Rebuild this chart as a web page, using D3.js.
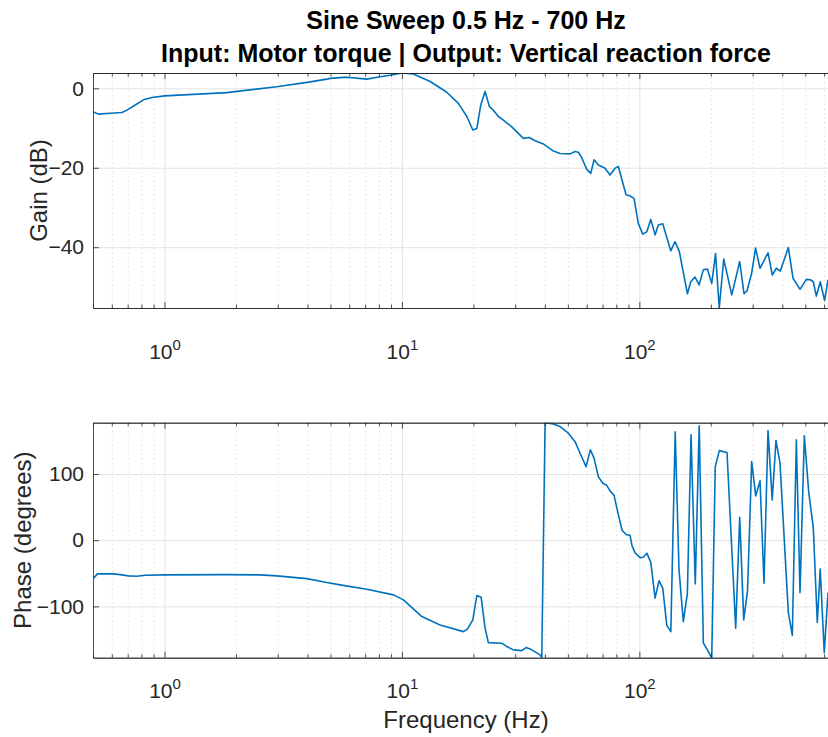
<!DOCTYPE html>
<html>
<head>
<meta charset="utf-8">
<script src="https://cdn.jsdelivr.net/npm/d3@7"></script>
<style>
  body { margin: 0; background: #fff; }
  svg { display: block; font-family: "Liberation Sans", Arial, Helvetica, sans-serif; }
</style>
</head>
<body>
<svg id="chart" width="828" height="737"></svg>
<script>
// Measured frequency response of the sweep (0.5 Hz - 700 Hz)
const gainFreq = [0.5, 0.527, 0.591, 0.662, 0.695, 0.753, 0.816, 0.885, 1.0, 1.83, 2.97, 3.98, 4.83, 4.99,
  5.86, 7.12, 8.09, 8.92, 10.0, 11.18, 13.15, 15.45, 17.29, 18.77, 19.89, 20.68, 21.49, 22.4, 23.36,
  24.28, 25.49, 26.75, 29.02, 32.48, 34.42, 36.38, 39.42, 43.19, 46.37, 51.07, 53.61, 55.36, 57.22,
  60.06, 62.43, 64.46, 67.2, 71.72, 75.27, 79.02, 81.59, 87.9, 91.38, 94.99, 99.0, 103.3, 107.5, 111.7,
  116.5, 120.2, 125.5, 135.6, 141.4, 147.4, 159.3, 164.6, 171.6, 178.4, 186.0, 193.4, 201.8, 209.4,
  217.0, 226.7, 245.0, 264.7, 275.9, 284.1, 297.3, 308.5, 322.3, 348.3, 363.1, 377.5, 392.4, 424.1,
  443.9, 475.0, 505.0, 524.8, 540.3, 556.4, 578.3, 602.9, 623.1];
const gainDb = [-5.9, -6.5, -6.3, -6.1, -5.5, -4.2, -2.9, -2.3, -1.9, -1.1, 0.4, 1.5, 2.3, 2.5,
  2.8, 2.3, 2.9, 3.3, 3.85, 3.6, 1.7, -1.0, -3.8, -7.1, -10.5, -10.1, -4.2, -0.8, -4.6,
  -5.5, -7.1, -8.0, -9.7, -12.6, -12.4, -13.2, -14.0, -15.7, -16.4, -16.5, -15.9, -16.1, -17.5,
  -20.4, -21.4, -18.0, -19.3, -20.1, -21.8, -20.1, -19.7, -26.8, -27.1, -27.7, -34.0, -36.7, -36.1, -33.0,
  -36.9, -34.4, -34.1, -40.9, -38.6, -41.1, -51.7, -48.7, -47.5, -49.5, -45.7, -45.5, -49.1, -41.6,
  -55.3, -43.0, -52.0, -43.6, -51.7, -51.0, -46.5, -40.2, -45.3, -41.4, -47.0, -45.3, -46.0, -40.1,
  -47.8, -50.6, -48.1, -48.2, -48.7, -52.3, -48.7, -53.4, -48.2];

const phaseFreq = [0.503, 0.522, 0.61, 0.651, 0.705, 0.765, 0.829, 1.0, 1.83, 2.53, 2.97, 3.98, 4.83, 5.49,
  7.12, 9.21, 10.15, 12.13, 14.48, 18.16, 18.87, 19.89, 20.68, 21.56, 22.4, 23.13, 26.34, 27.65, 29.48,
  31.98, 33.34, 34.65, 38.18, 38.82, 40.09, 43.44, 46.37, 50.24, 53.61, 56.27, 59.65, 62.2, 64.46, 67.2,
  70.14, 72.63, 75.27, 78.26, 81.59, 84.58, 87.9, 91.38, 93.18, 95.92, 100.7, 104.0, 107.5, 111.7,
  116.5, 121.0, 125.5, 130.5, 135.7, 141.6, 146.9, 153.2, 159.3, 165.1, 172.0, 178.7, 186.0, 201.8,
  208.8, 217.2, 234.0, 254.6, 264.7, 275.2, 285.5, 297.3, 309.1, 322.3, 335.0, 348.3, 362.7, 376.3,
  391.3, 424.1, 440.9, 458.4, 475.0, 495.2, 516.8, 540.3, 561.7, 577.8, 600.9, 623.1];
const phaseDeg = [-57.4, -50.9, -50.9, -52.0, -53.9, -54.4, -52.9, -52.4, -52.0, -52.4, -53.9, -58.0, -64.0, -67.5,
  -74.0, -82.6, -90.2, -115.4, -128.0, -138.1, -134.4, -120.4, -83.7, -86.1, -132.9, -154.7, -155.6, -160.7, -165.7,
  -166.8, -162.2, -164.2, -173.3, -177.5, 177.5, 175.7, 171.6, 161.6, 148.9, 131.4, 111.2, 136.4, 123.9, 96.1,
  86.1, 83.5, 74.5, 67.7, 38.2, 15.1, 8.5, 7.3, -8.6, -19.2, -26.3, -25.7, -19.6, -33.2,
  -87.6, -61.2, -72.5, -128.7, -138.1, 163.6, -44.9, -123.0, -80.7, 159.1, -66.0, 172.7, -155.1, -177.5,
  111.2, 135.3, 132.6, -132.9, 34.7, -120.4, -76.6, 118.7, 66.9, 89.6, -65.0, 165.6, 60.9, 150.5,
  116.3, -109.4, -143.8, 151.5, -79.2, 157.6, 73.0, 18.6, -124.2, -43.4, -169.8, -79.2];

const freqLimits = [0.5, 700];
const gainLimits = [-55.3, 3.85];
const phaseLimits = [-177.5, 177.5];
const freqTicks = [1, 10, 100];
const freqTickExponents = ["0", "1", "2"];
const gainTicks = [0, -20, -40];
const phaseTicks = [100, 0, -100];

const titleLines = ["Sine Sweep 0.5 Hz - 700 Hz", "Input: Motor torque | Output: Vertical reaction force"];

const W = 828, H = 737;
const plotLeft = 93, plotRight = 840;
const axisColor = "#262626";
const lineColor = "#0072BD";

const svg = d3.select("#chart");
svg.append("rect").attr("width", W).attr("height", H).attr("fill", "#fff");

const x = d3.scaleLog().domain(freqLimits).range([plotLeft, plotRight]);

// minor ticks at 2..9 multiples of every decade inside the limits
const minorFreqs = [];
for (let e = -1; e <= 2; e++) {
  for (let m = 2; m <= 9; m++) {
    const v = m * Math.pow(10, e);
    if (v >= freqLimits[0] && v <= freqLimits[1] && !freqTicks.includes(v)) minorFreqs.push(+v.toPrecision(3));
  }
}

function drawPanel(opts) {
  const { top, bottom, yDomain, yTicks, yLabel, yLabelX, xLabelY, freqs, values, id } = opts;
  const h = bottom - top;
  const y = d3.scaleLinear().domain(yDomain).range([bottom, top]);
  const g = svg.append("g");

  // grid
  const gridMinor = g.append("g").attr("transform", `translate(0,${bottom})`)
    .call(d3.axisBottom(x).tickValues(minorFreqs).tickSize(-h).tickFormat(""));
  gridMinor.select(".domain").remove();
  gridMinor.selectAll("line").attr("stroke", "#d6d6d6").attr("stroke-width", 0.8).attr("stroke-dasharray", "1.5,3");

  const gridX = g.append("g").attr("transform", `translate(0,${bottom})`)
    .call(d3.axisBottom(x).tickValues(freqTicks).tickSize(-h).tickFormat(""));
  gridX.select(".domain").remove();
  gridX.selectAll("line").attr("stroke", "#e3e3e3").attr("stroke-width", 1);

  const gridY = g.append("g").attr("transform", `translate(${plotLeft},0)`)
    .call(d3.axisLeft(y).tickValues(yTicks).tickSize(-(plotRight - plotLeft)).tickFormat(""));
  gridY.select(".domain").remove();
  gridY.selectAll("line").attr("stroke", "#e3e3e3").attr("stroke-width", 1);

  // data line
  const clipId = "clip-" + id;
  svg.append("clipPath").attr("id", clipId).append("rect")
    .attr("x", plotLeft).attr("y", top).attr("width", plotRight - plotLeft).attr("height", h);
  const pts = freqs.map((f, i) => [f, values[i]]);
  g.append("path").datum(pts)
    .attr("clip-path", `url(#${clipId})`)
    .attr("fill", "none").attr("stroke", lineColor).attr("stroke-width", 1.6)
    .attr("stroke-linejoin", "round")
    .attr("d", d3.line().x(d => x(d[0])).y(d => y(d[1])));

  // axes box with inward ticks
  const axB = g.append("g").attr("transform", `translate(0,${bottom})`)
    .call(d3.axisBottom(x).tickValues(freqTicks).tickSizeInner(-6).tickSizeOuter(0).tickFormat(""));
  const axBm = g.append("g").attr("transform", `translate(0,${bottom})`)
    .call(d3.axisBottom(x).tickValues(minorFreqs).tickSizeInner(-3.5).tickSizeOuter(0).tickFormat(""));
  const axT = g.append("g").attr("transform", `translate(0,${top})`)
    .call(d3.axisTop(x).tickValues(freqTicks).tickSizeInner(-6).tickSizeOuter(0).tickFormat(""));
  const axTm = g.append("g").attr("transform", `translate(0,${top})`)
    .call(d3.axisTop(x).tickValues(minorFreqs).tickSizeInner(-3.5).tickSizeOuter(0).tickFormat(""));
  const axL = g.append("g").attr("transform", `translate(${plotLeft},0)`)
    .call(d3.axisLeft(y).tickValues(yTicks).tickSizeInner(-6).tickSizeOuter(0).tickPadding(9)
      .tickFormat(d => d3.format("d")(d)));
  [axB, axBm, axT, axTm, axL].forEach(a => {
    a.selectAll("line").attr("stroke", axisColor).attr("stroke-width", 0.8);
    a.select(".domain").attr("stroke", axisColor).attr("stroke-width", 0.8);
  });
  axL.selectAll("text").attr("font-size", 21).attr("fill", axisColor)
    .attr("font-family", '"Liberation Sans", Arial, sans-serif');

  // power-of-ten tick labels
  axB.selectAll(".tick").each(function (d, i) {
    const t = d3.select(this).append("text")
      .attr("y", xLabelY).attr("text-anchor", "middle").attr("fill", axisColor)
      .attr("font-size", 21);
    t.append("tspan").text("10");
    t.append("tspan").attr("dy", -9).attr("font-size", 15).text(freqTickExponents[i]);
  });

  // y axis label
  g.append("text")
    .attr("transform", `translate(${yLabelX},${(top + bottom) / 2}) rotate(-90)`)
    .attr("text-anchor", "middle").attr("fill", axisColor).attr("font-size", 24)
    .text(yLabel);
  return y;
}

drawPanel({ top: 73, bottom: 308, yDomain: gainLimits, yTicks: gainTicks, yLabel: "Gain (dB)",
  yLabelX: 47, xLabelY: 51, freqs: gainFreq, values: gainDb, id: "gain" });
drawPanel({ top: 422.7, bottom: 657.7, yDomain: phaseLimits, yTicks: phaseTicks, yLabel: "Phase (degrees)",
  yLabelX: 31, xLabelY: 40, freqs: phaseFreq, values: phaseDeg, id: "phase" });

// title
const title = svg.append("text").attr("text-anchor", "middle").attr("font-weight", "bold")
  .attr("font-size", 25).attr("fill", "#000");
title.append("tspan").attr("x", 466).attr("y", 29).text(titleLines[0]);
title.append("tspan").attr("x", 466).attr("y", 62).text(titleLines[1]);

// x axis label
svg.append("text").attr("x", 466).attr("y", 728).attr("text-anchor", "middle")
  .attr("fill", axisColor).attr("font-size", 24).text("Frequency (Hz)");
</script>
</body>
</html>
